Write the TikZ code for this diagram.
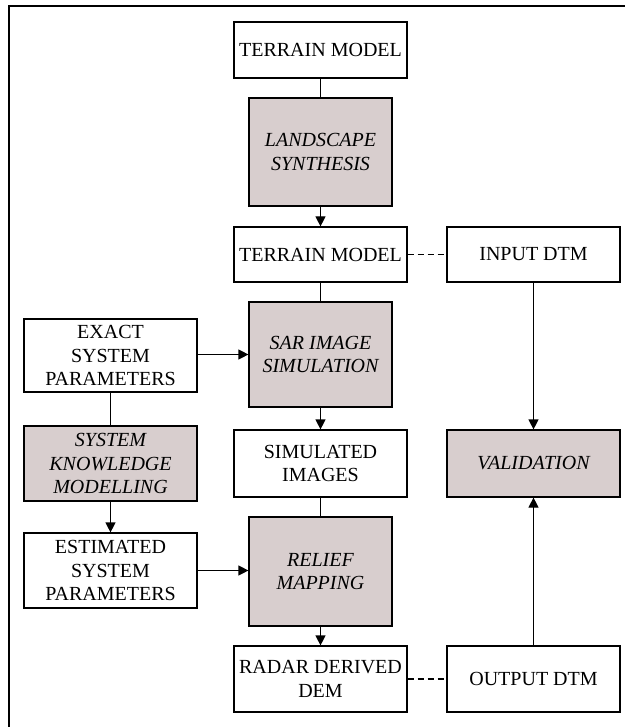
\documentclass[tikz,border=0pt]{standalone}
\usepackage{fontspec}
\setmainfont{Liberation Serif}
\usetikzlibrary{arrows.meta}
\definecolor{shade}{RGB}{216,206,206}
\tikzset{
  box/.style={draw, line width=1.2pt, inner sep=0pt, align=center,
    minimum width=173pt, font=\fontsize{20}{23.5}\selectfont},
  procbox/.style={box, fill=shade, minimum width=143pt,
    font=\fontsize{20}{23.5}\selectfont\itshape},
  link/.style={line width=1.2pt},
  arr/.style={link, -{Triangle[length=10pt,width=10pt]}},
  dashlink/.style={link, dash pattern=on 6pt off 4pt}
}
\begin{document}
\begin{tikzpicture}[x=1pt,y=-1pt]
\useasboundingbox (0,0) rectangle (625,727);
\draw[line width=1.2pt] (9,727) -- (9,6) -- (625,6);
\node[box, minimum height=56pt] (tm1) at (320.5,50) {TERRAIN MODEL};
\node[procbox, minimum height=108pt] (ls) at (320.5,152) {LANDSCAPE\\SYNTHESIS};
\node[box, minimum height=55pt] (tm2) at (320.5,254.5) {TERRAIN MODEL};
\node[box, minimum height=55pt] (in) at (533.5,254.5) {INPUT DTM};
\node[procbox, minimum height=105pt] (sar) at (320.5,354.5) {SAR IMAGE\\SIMULATION};
\node[box, minimum height=73pt] (exact) at (110.5,355.5) {EXACT\\SYSTEM\\PARAMETERS};
\node[procbox, minimum width=173pt, minimum height=75pt] (skm) at (110.5,463.5) {SYSTEM\\KNOWLEDGE\\MODELLING};
\node[box, minimum height=67pt] (sim) at (320.5,463.5) {SIMULATED\\IMAGES};
\node[procbox, minimum width=173pt, minimum height=67pt] (val) at (533.5,463.5) {VALIDATION};
\node[box, minimum height=75pt] (est) at (110.5,570.5) {ESTIMATED\\SYSTEM\\PARAMETERS};
\node[procbox, minimum height=109pt] (rel) at (320.5,571.5) {RELIEF\\MAPPING};
\node[box, minimum height=66pt] (rad) at (320.5,679) {RADAR DERIVED\\DEM};
\node[box, minimum height=66pt] (out) at (533.5,679) {OUTPUT DTM};

\draw[link] (tm1) -- (ls);
\draw[arr] (ls) -- (tm2);
\draw[dashlink] (tm2) -- (in);
\draw[link] (tm2) -- (sar);
\draw[arr] (exact.east |- sar.west) -- (sar.west);
\draw[arr] (sar) -- (sim);
\draw[link] (exact) -- (skm);
\draw[arr] (skm) -- (est);
\draw[arr] (est) -- (est -| rel.west);
\draw[link] (sim) -- (rel);
\draw[arr] (rel) -- (rad);
\draw[dashlink] (rad) -- (out);
\draw[arr] (in) -- (val);
\draw[arr] (out) -- (val);
\end{tikzpicture}
\end{document}
